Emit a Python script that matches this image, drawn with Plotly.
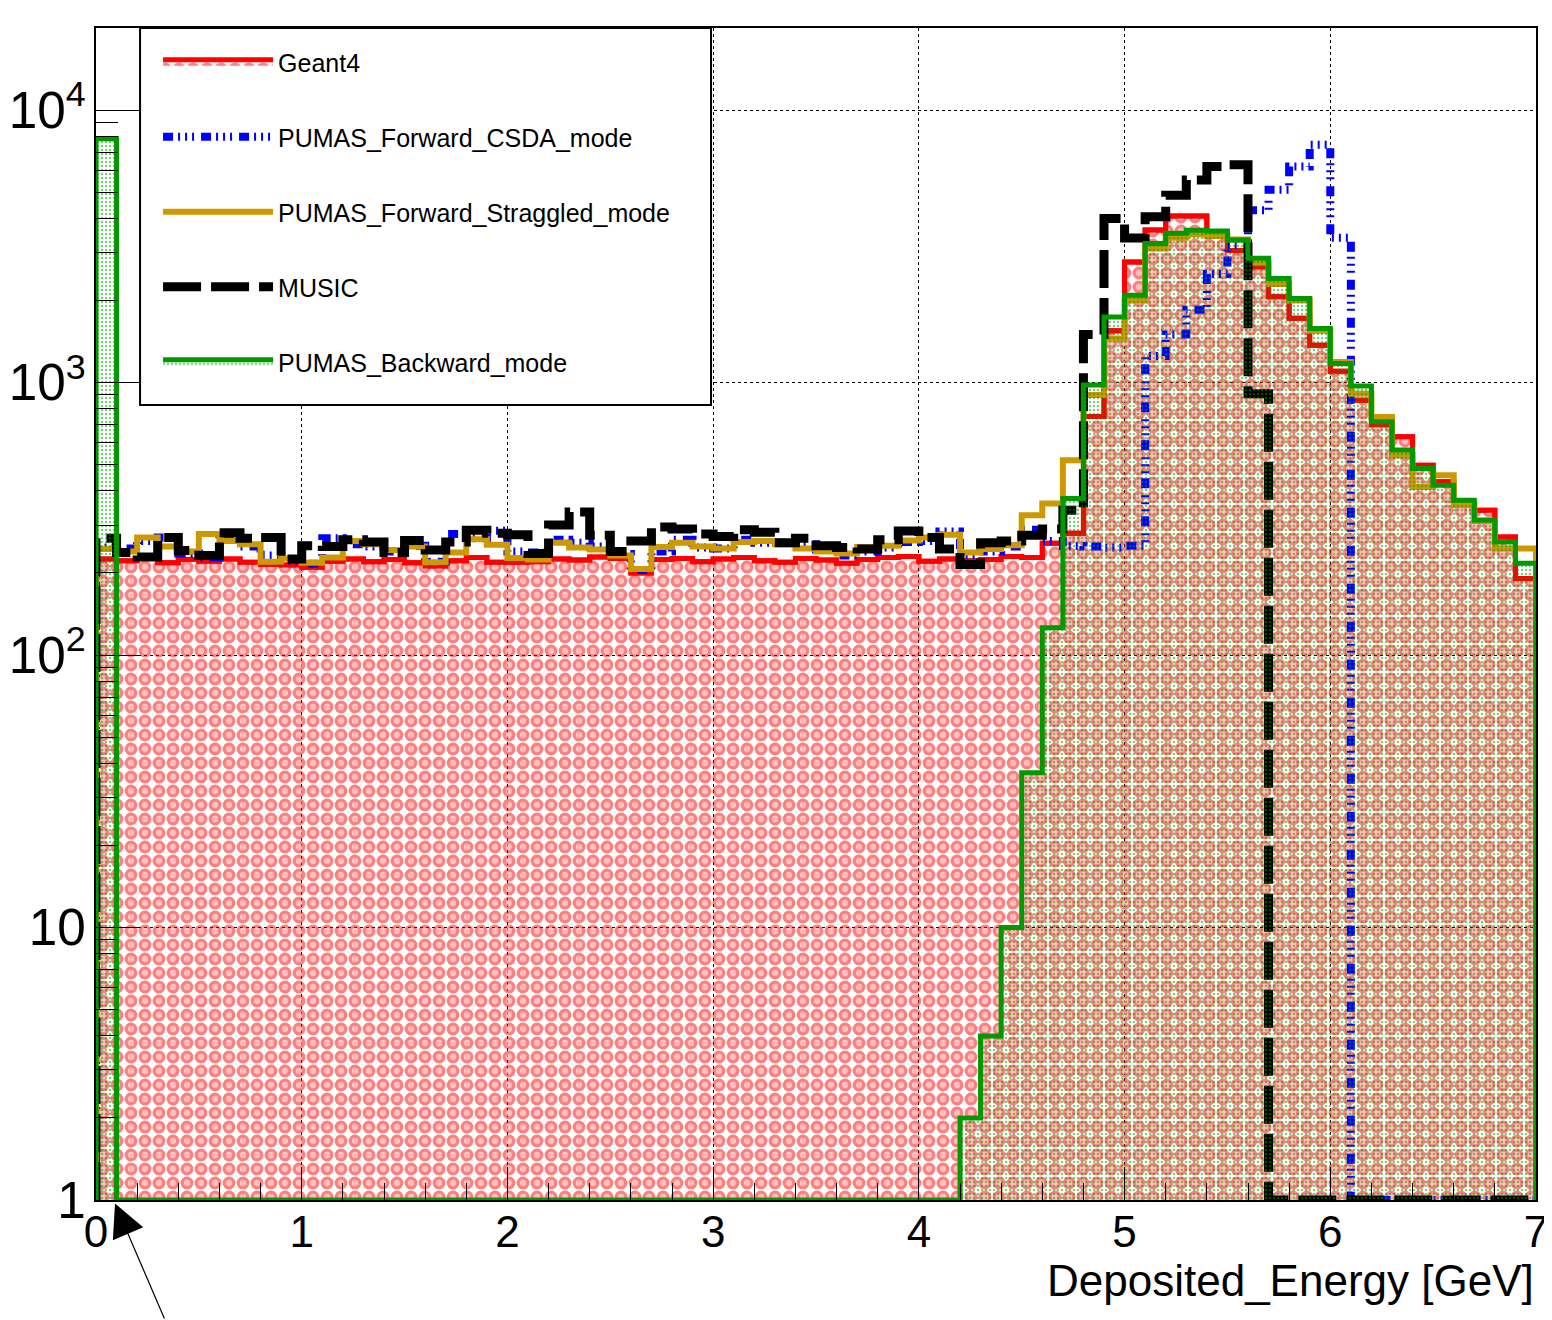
import plotly.graph_objects as go

# Deposited energy histograms, 0.1 GeV bins from 0 to 7 GeV (entries per bin)
bin_width = 0.1
n_bins = 70

geant4 = [225,
          222, 226, 218, 224, 221, 225, 219, 215, 214, 210,
          221, 225, 220, 224, 218, 212, 222, 228, 219, 219,
          220, 225, 223, 229, 226, 200, 224, 226, 220, 225,
          228, 222, 219, 226, 223, 217, 224, 228, 230, 221,
          225, 222, 224, 230, 228, 257, 280, 750, 1550, 2770,
          3630, 4080, 4080, 3500, 3050, 2660, 2065, 1720, 1370, 1100,
          861, 700, 632, 497, 432, 360, 340, 271, 191]

csda = [248,
        246, 262, 270, 236, 228, 278, 250, 232, 222, 216,
        268, 255, 250, 240, 252, 220, 278, 268, 286, 240,
        238, 265, 258, 250, 235, 205, 240, 265, 248, 246,
        265, 258, 258, 255, 244, 232, 240, 248, 260, 262,
        284, 232, 240, 250, 288, 262, 251, 250, 248, 252,
        1250, 1500, 1850, 2500, 3200, 4290, 5100, 6200, 7450, 3400,
        0, 0, 0, 0, 0, 0, 0, 0, 0]

straggled = [245,
             240, 270, 250, 240, 278, 262, 255, 220, 226, 218,
             228, 262, 255, 243, 250, 219, 238, 266, 254, 227,
             224, 258, 248, 244, 232, 207, 249, 258, 250, 246,
             260, 262, 255, 246, 240, 236, 249, 252, 263, 270,
             276, 238, 245, 253, 326, 360, 519, 900, 1450, 2000,
             3100, 3400, 3500, 3450, 3350, 2750, 2300, 2000, 1550, 1190,
             910, 748, 541, 414, 457, 355, 310, 246, 246]

music = [268,
         238, 229, 270, 242, 232, 281, 268, 270, 225, 252,
         250, 265, 260, 238, 263, 243, 260, 287, 280, 276,
         236, 300, 335, 275, 240, 262, 295, 290, 278, 272,
         288, 282, 258, 268, 252, 248, 245, 265, 285, 270,
         245, 215, 258, 262, 275, 290, 340, 1500, 4000, 3390,
         4060, 4870, 5540, 6200, 6300, 910, 0, 0, 0, 0,
         0, 0, 0, 0, 0, 0, 0, 0, 0]

backward = [7840,
            0, 0, 0, 0, 0, 0, 0, 0, 0, 0,
            0, 0, 0, 0, 0, 0, 0, 0, 0, 0,
            0, 0, 0, 0, 0, 0, 0, 0, 0, 0,
            0, 0, 0, 0, 0, 0, 0, 0, 0, 0,
            0, 2, 4, 10, 37, 126, 375, 980, 1740, 2090,
            3240, 3530, 3620, 3600, 3335, 2860, 2410, 2036, 1580, 1175,
            970, 718, 565, 484, 420, 370, 313, 260, 217]

names = ["Geant4", "PUMAS_Forward_CSDA_mode", "PUMAS_Forward_Straggled_mode",
         "MUSIC", "PUMAS_Backward_mode"]

y_floor = 1.0  # bottom of the log frame, empty bins are drawn on it (ROOT style)
font = "Liberation Sans, Arial, Helvetica, sans-serif"


def step_xy(values):
    assert len(values) == n_bins
    edges = [round(i * bin_width, 2) for i in range(n_bins + 1)]
    ys = [max(v, y_floor) for v in values]
    x = [edges[0]] + edges[:-1] + [edges[-1], edges[-1]]
    y = [y_floor] + ys + [ys[-1], y_floor]
    return x, y


fig = go.Figure()

# Geant4: red ring hatch (red dots with white centres) + red outline
gx, gy = step_xy(geant4)
fig.add_trace(go.Scatter(
    x=gx, y=gy, mode="lines", line_shape="hv", fill="toself",
    fillcolor="rgba(0,0,0,0)",
    fillpattern=dict(shape=".", size=14, solidity=0.66, fgcolor="#ff0000",
                     bgcolor="rgba(0,0,0,0)"),
    line=dict(color="#ff0000", width=5),
    name=names[0], legendgroup="g4", hoverinfo="skip"))
fig.add_trace(go.Scatter(
    x=gx, y=gy, mode="none", line_shape="hv", fill="toself",
    fillcolor="rgba(0,0,0,0)",
    fillpattern=dict(shape=".", size=14, solidity=0.16, fgcolor="white",
                     bgcolor="rgba(0,0,0,0)"),
    showlegend=False, hoverinfo="skip"))
fig.add_trace(go.Scatter(
    x=gx, y=gy, mode="lines", line_shape="hv",
    line=dict(color="#ff0000", width=5), showlegend=False, hoverinfo="skip"))

cx, cy = step_xy(csda)
fig.add_trace(go.Scatter(
    x=cx, y=cy, mode="lines", line_shape="hv",
    line=dict(color="#0000ff", width=8, dash="10px,5px,2px,5px,2px,5px,2px,7px"),
    name=names[1], legendgroup="csda", hoverinfo="skip"))

sx, sy = step_xy(straggled)
fig.add_trace(go.Scatter(
    x=sx, y=sy, mode="lines", line_shape="hv",
    line=dict(color="#cc9900", width=6),
    name=names[2], legendgroup="strag", hoverinfo="skip"))

mx, my = step_xy(music)
fig.add_trace(go.Scatter(
    x=mx, y=my, mode="lines", line_shape="hv",
    line=dict(color="black", width=9, dash="38px,10px"),
    name=names[3], legendgroup="music", hoverinfo="skip"))

bx, by = step_xy(backward)
fig.add_trace(go.Scatter(
    x=bx, y=by, mode="lines", line_shape="hv", fill="toself",
    fillcolor="rgba(0,0,0,0)",
    fillpattern=dict(shape=".", size=4, solidity=0.3, fgcolor="#009900",
                     bgcolor="rgba(0,0,0,0)"),
    line=dict(color="#009900", width=5),
    name=names[4], legendgroup="back", hoverinfo="skip"))

fig.update_xaxes(
    range=[0, 7], tick0=0, dtick=1, ticks="inside", ticklen=33, tickwidth=1,
    tickcolor="black",
    minor=dict(dtick=0.2, ticks="inside", ticklen=17, tickwidth=1,
               tickcolor="black", showgrid=False),
    showgrid=True, gridcolor="black", griddash="dot", gridwidth=1,
    showline=True, linecolor="black", linewidth=2, mirror=True, zeroline=False,
    tickfont=dict(family=font, size=44, color="black"), ticklabelstandoff=-8,
    layer="above traces", automargin=False)

fig.update_yaxes(
    type="log", range=[0, 4.301], dtick=1, exponentformat="power",
    ticks="inside", ticklen=44, tickwidth=1, tickcolor="black",
    minor=dict(dtick="D1", ticks="inside", ticklen=22, tickwidth=1,
               tickcolor="black", showgrid=False),
    showgrid=True, gridcolor="black", griddash="dot", gridwidth=1,
    showline=True, linecolor="black", linewidth=2, mirror=True, zeroline=False,
    tickfont=dict(family=font, size=41, color="black"),
    layer="above traces", automargin=False)

# the page body adds an 8 px offset, so the figure is 8 px smaller on each side
fig.update_layout(
    width=1544, height=1312,
    margin=dict(l=88, r=16, t=20, b=120),
    paper_bgcolor="white", plot_bgcolor="white",
    font=dict(family=font, color="black"),
    showlegend=True,
    legend=dict(x=0.0431, y=0.9906, xanchor="left", yanchor="top",
                bgcolor="rgba(0,0,0,0)", borderwidth=0,
                font=dict(family=font, size=25, color="black"),
                itemwidth=110, tracegroupgap=39.5),
    shapes=[dict(type="rect", xref="paper", yref="paper",
                 x0=0.0306, x1=0.4271, y0=0.6783, y1=1.0,
                 fillcolor="white", line=dict(color="black", width=2),
                 layer="above")],
    annotations=[
        dict(text="Deposited_Energy [GeV]", xref="paper", yref="paper",
             x=1.0, y=-0.0683, xanchor="right", yanchor="middle",
             showarrow=False, font=dict(family=font, size=44, color="black")),
        dict(text="", xref="paper", yref="paper", x=0.0132, y=-0.003,
             showarrow=True, arrowhead=2, arrowsize=5.5, arrowwidth=1.2,
             arrowcolor="black", ax=50, ay=117),
    ],
)

fig.write_html("out.html")
